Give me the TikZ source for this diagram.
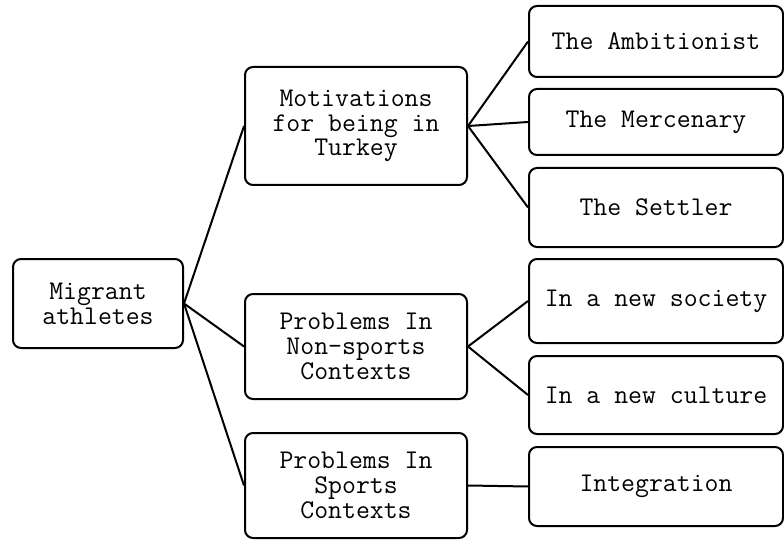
\documentclass[tikz,border=0pt]{standalone}
\begin{document}
\begin{tikzpicture}[x=1pt,y=-1pt,
  box/.style={draw=black,line width=2pt,rounded corners=8pt,fill=white,
    align=center,inner sep=0pt,font=\ttfamily\fontsize{27}{24.7}\selectfont},
  conn/.style={draw=black,line width=2pt}]
\useasboundingbox (0,0) rectangle (784,540);
\node[box,minimum width=170pt,minimum height=89pt] (mig) at (98,303.5) {Migrant\\athletes};
\node[box,minimum width=222pt,minimum height=118pt] (mot) at (356,126) {Motivations\\for being in\\Turkey};
\node[box,minimum width=222pt,minimum height=105pt] (non) at (356,346.5) {Problems In\\Non-sports\\Contexts};
\node[box,minimum width=222pt,minimum height=105pt] (spo) at (356,485.5) {Problems In\\Sports\\Contexts};
\node[box,minimum width=254pt,minimum height=71pt] (amb) at (656,41.5) {The Ambitionist};
\node[box,minimum width=254pt,minimum height=66pt] (mer) at (656,122) {The Mercenary};
\node[box,minimum width=254pt,minimum height=79pt] (set) at (656,207.5) {The Settler};
\node[box,minimum width=254pt,minimum height=84pt] (soc) at (656,301) {In a new society};
\node[box,minimum width=254pt,minimum height=78pt] (cul) at (656,395) {In a new culture};
\node[box,minimum width=254pt,minimum height=79pt] (int) at (656,486.5) {Integration};
\draw[conn] (mig.east) -- (mot.west);
\draw[conn] (mig.east) -- (non.west);
\draw[conn] (mig.east) -- (spo.west);
\draw[conn] (mot.east) -- (amb.west);
\draw[conn] (mot.east) -- (mer.west);
\draw[conn] (mot.east) -- (set.west);
\draw[conn] (non.east) -- (soc.west);
\draw[conn] (non.east) -- (cul.west);
\draw[conn] (spo.east) -- (int.west);
\end{tikzpicture}
\end{document}
